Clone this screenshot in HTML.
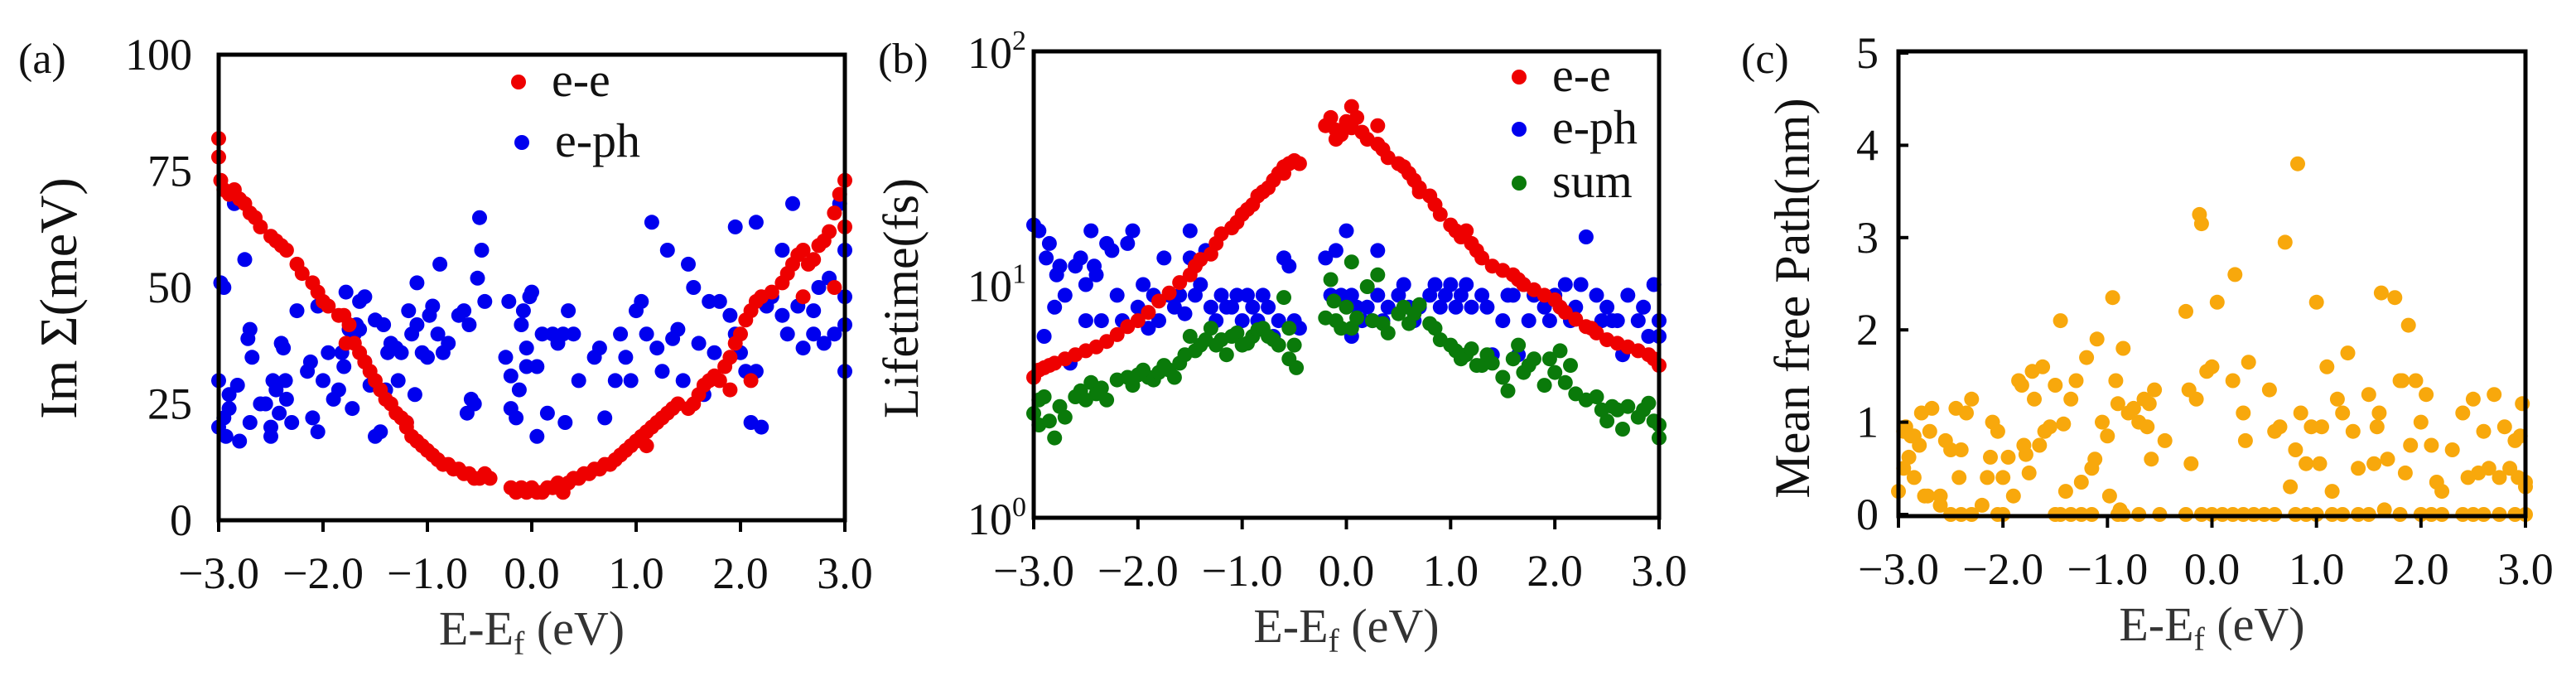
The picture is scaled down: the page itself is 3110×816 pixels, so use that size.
<!DOCTYPE html>
<html><head><meta charset="utf-8"><style>
html,body{margin:0;padding:0;background:#fff;}
svg{display:block;}
svg text{font-family:"Liberation Serif","DejaVu Serif",serif;}
</style></head><body>
<svg id="fig" width="3110" height="816" viewBox="0 0 3110 816" xmlns="http://www.w3.org/2000/svg" font-family="Liberation Serif, DejaVu Serif, serif"></svg>
<script>
// ---------- Panel (a) data: Im Sigma (meV) ----------
const aEeX=[-3,-3,-2.98,-2.95,-2.9,-2.85,-2.8,-2.75,-2.7,-2.65,-2.6,-2.5,-2.45,-2.4,-2.35,-2.25,-2.2,-2.1,-2.05,-2,-1.95,-1.85,-1.8,-1.75,-1.7,-1.65,-1.6,-1.55,-1.5,-1.45,-1.4,-1.35,-1.3,-1.25,-1.2,-1.15,-1.1,-1.05,-1,-0.95,-0.9,-0.85,-0.8,-0.75,-0.7,-0.65,-0.6,-0.55,-0.5,-0.45,-0.4,-0.2,-0.15,-0.1,-0.05,0,0.05,0.1,0.15,0.2,0.25,0.3,0.35,0.4,0.45,0.5,0.55,0.6,0.65,0.7,0.75,0.8,0.85,0.9,0.95,1,1.05,1.1,1.15,1.2,1.25,1.3,1.35,1.4,1.5,1.55,1.6,1.65,1.7,1.75,1.8,1.85,1.9,1.95,2,2.05,2.1,2.15,2.2,2.3,2.4,2.45,2.5,2.55,2.6,2.65,2.7,2.75,2.8,2.85,2.9,2.95,3,3,2.9,2.6,2.1,1.9,-1.78,-1.2,0.3,1.1];
const aEeY=[82,78,73,71,70,71,69,68,66,65,63,61,60,59,58,55,53,51,49,47,46,44,44,42,38,36,34,32,30,28,26,25,23,22,20,18,17,16,15,14,13,12,12,11,11,10,10,9,9,10,9,7,6,7,6,7,6,6,7,7,8,7,8,9,9,10,10,11,11,12,12,13,14,15,16,17,18,19,20,21,22,23,24,25,24,25,27,29,30,31,30,33,35,38,40,43,45,47,48,49,51,53,55,57,58,55,56,59,60,62,66,70,73,63,50,48,30,28,38,21,6,16];
const aEpX=[-3,-3,-2.98,-2.95,-2.95,-2.93,-2.9,-2.9,-2.85,-2.82,-2.8,-2.75,-2.72,-2.7,-2.7,-2.68,-2.6,-2.55,-2.5,-2.5,-2.48,-2.45,-2.42,-2.4,-2.38,-2.36,-2.35,-2.3,-2.25,-2.15,-2.12,-2.1,-2.05,-2.05,-2,-1.95,-1.9,-1.85,-1.82,-1.8,-1.78,-1.75,-1.72,-1.7,-1.68,-1.65,-1.65,-1.6,-1.6,-1.55,-1.5,-1.5,-1.45,-1.42,-1.4,-1.38,-1.35,-1.3,-1.28,-1.25,-1.2,-1.18,-1.15,-1.12,-1.1,-1.1,-1.05,-1,-0.98,-0.95,-0.9,-0.88,-0.85,-0.8,-0.7,-0.65,-0.62,-0.6,-0.58,-0.55,-0.52,-0.5,-0.48,-0.45,-0.25,-0.22,-0.2,-0.2,-0.15,-0.12,-0.1,-0.08,-0.05,-0.05,-0.02,0,0.05,0.05,0.1,0.15,0.2,0.25,0.3,0.32,0.35,0.4,0.45,0.6,0.65,0.7,0.8,0.85,0.9,0.95,1,1.05,1.1,1.15,1.2,1.25,1.3,1.35,1.4,1.45,1.5,1.55,1.6,1.65,1.7,1.75,1.8,1.9,1.95,1.95,2,2.05,2.1,2.15,2.15,2.2,2.25,2.3,2.4,2.45,2.5,2.55,2.6,2.7,2.75,2.8,2.85,2.9,2.95,3,3,3,3,2.7,2.4];
const aEpY=[30,20,51,50,22,18,24,27,68,29,17,56,39,41,21,35,25,25,20,18,30,28,23,38,37,30,26,21,45,32,34,22,46,19,30,36,26,28,36,33,49,41,24,40,42,41,47,48,34,29,43,18,19,42,28,36,38,37,30,36,21,45,40,27,42,51,36,35,44,46,40,55,36,38,44,45,23,42,26,25,52,65,58,47,35,47,31,24,22,28,42,45,37,33,48,49,33,18,40,23,40,38,40,21,45,40,30,35,37,22,30,40,35,30,45,47,40,64,37,32,58,39,41,30,55,50,38,27,47,36,47,44,40,63,36,32,21,32,64,20,46,48,58,40,68,46,37,45,50,38,52,40,68,58,48,42,32,40,44];

// ---------- Panel (b) data: Lifetime (fs), log scale ----------
const bEeX=[-3,-2.95,-2.9,-2.85,-2.8,-2.7,-2.6,-2.5,-2.4,-2.3,-2.2,-2.1,-2,-1.9,-1.8,-1.7,-1.6,-1.5,-1.45,-1.4,-1.3,-1.25,-1.2,-1.1,-1.05,-1,-0.95,-0.9,-0.85,-0.8,-0.75,-0.7,-0.65,-0.6,-0.55,-0.5,-0.45,-0.2,-0.15,-0.1,-0.05,0,0.05,0.1,0.15,0.2,0.3,0.35,0.4,0.5,0.55,0.6,0.65,0.7,0.8,0.85,0.9,1,1.05,1.1,1.2,1.25,1.3,1.4,1.5,1.6,1.65,1.7,1.8,1.9,2,2.05,2.1,2.2,2.3,2.4,2.5,2.6,2.7,2.8,2.9,2.95,3,-0.1,0.05,-0.6,0.3,0.7,1.15,2.35];
const bEeY=[4.0,4.3,4.4,4.5,4.6,4.8,5.0,5.2,5.4,5.7,6.1,6.6,7.0,7.6,8.5,9.2,10.2,11.0,12.0,12.8,13.5,15,16.5,17.5,18.5,20,21,22,24,25,26,28,30,32,33,34,33,48,52,46,44,50,47,52,45,42,40,38,35,33,32,30,28,26,24,22,20,18,17,16,15,14,13,12,11.5,11,10.5,10,9.5,9,8.6,8,7.6,7.1,6.6,6.2,5.8,5.6,5.4,5.2,5.0,4.8,4.5,42,58,30,48,25,17,6.5];
const bEpX=[-3,-2.95,-2.9,-2.88,-2.85,-2.8,-2.78,-2.75,-2.7,-2.65,-2.6,-2.55,-2.5,-2.45,-2.42,-2.4,-2.35,-2.3,-2.25,-2.2,-2.15,-2.1,-2.05,-2,-1.95,-1.9,-1.85,-1.8,-1.75,-1.7,-1.65,-1.6,-1.55,-1.5,-1.45,-1.4,-1.35,-1.3,-1.25,-1.2,-1.15,-1.1,-1.05,-1,-0.95,-0.9,-0.85,-0.8,-0.75,-0.7,-0.65,-0.6,-0.55,-0.5,-0.45,-0.2,-0.15,-0.1,-0.05,0,0.05,0.1,0.15,0.2,0.25,0.3,0.35,0.4,0.5,0.55,0.6,0.65,0.7,0.8,0.85,0.9,0.95,1,1.05,1.1,1.15,1.2,1.3,1.35,1.4,1.5,1.55,1.6,1.65,1.7,1.75,1.8,1.9,1.95,2,2.05,2.1,2.15,2.2,2.25,2.3,2.4,2.45,2.5,2.55,2.6,2.65,2.7,2.8,2.85,2.9,3,3,2.95,-2.5,-1.5,-0.6,0.05,0.3];
const bEpY=[18,17,6,13,15,8,11,12,9,4.6,12,13,10,17,12,11,7,15,14,9,7,15,17,8,10,6.5,9,7,13,9,8,9,7.5,17,9,10,14,8,7,9,8,8,9,7,9,8,7,9,8,6,7,13,12,7,6.5,13,9,14,9,17,9,8,7,8,7,9,7,8,9,10,8,7,8,9,10,8,9,10,8,9,10,8,9,8,5,7,9,9,5,10,7,9,8,7,9,8,10,7,8,10,16,9,7,8,7,7,5,9,7,8,6,7,6,10,7,13,13,6,14,17,8];
const bSuX=[-3,-2.95,-2.95,-2.9,-2.85,-2.8,-2.75,-2.7,-2.6,-2.55,-2.5,-2.45,-2.4,-2.35,-2.3,-2.2,-2.1,-2.05,-2,-1.95,-1.9,-1.85,-1.8,-1.75,-1.7,-1.65,-1.6,-1.55,-1.5,-1.45,-1.4,-1.35,-1.3,-1.25,-1.2,-1.15,-1.1,-1.05,-1,-0.95,-0.9,-0.85,-0.8,-0.75,-0.7,-0.65,-0.6,-0.55,-0.5,-0.48,-0.2,-0.15,-0.12,-0.1,-0.05,0,0.05,0.1,0.2,0.25,0.3,0.35,0.4,0.5,0.55,0.6,0.65,0.7,0.8,0.85,0.9,1,1.05,1.1,1.15,1.2,1.25,1.3,1.35,1.4,1.5,1.55,1.6,1.65,1.7,1.75,1.8,1.9,1.95,2,2.05,2.1,2.15,2.2,2.3,2.4,2.45,2.5,2.55,2.6,2.65,2.7,2.8,2.85,2.9,2.95,3,3,0.05,-0.55];
const bSuY=[2.8,3.2,2.5,3.3,2.6,2.2,3.0,2.7,3.3,3.5,3.2,3.8,3.4,3.6,3.2,3.9,4.0,3.7,4.1,4.3,4.0,3.9,4.2,4.5,4.3,4.0,4.6,5.0,6.0,5.2,5.5,5.8,6.5,5.5,5.8,5.0,6.0,6.2,5.5,5.6,6.0,6.4,6.5,6.0,5.8,5.5,8.8,6.5,5.5,4.4,7.2,10.5,8.5,7.0,6.5,8.0,12.5,7.2,9.8,7.0,11,6.8,6.2,7.5,8.0,6.8,7.5,8.2,6.8,6.5,5.8,5.5,5.2,4.8,5.0,5.3,4.5,4.5,5.0,4.6,4.0,3.5,4.8,5.5,4.2,4.5,4.8,3.7,4.8,4.2,5.2,3.8,4.5,3.4,3.2,3.3,2.9,2.6,3.0,2.9,2.4,3.0,2.7,2.9,3.1,2.6,2.5,2.2,6.5,4.8];

// ---------- Panel (c) data: Mean free path (nm) ----------
const cX=[-3,-2.95,-2.93,-2.9,-2.88,-2.85,-2.8,-2.78,-2.72,-2.7,-2.68,-2.6,-2.55,-2.5,-2.45,-2.42,-2.4,-2.35,-2.3,-2.2,-2.15,-2.12,-2.1,-2.05,-2,-1.95,-1.9,-1.85,-1.82,-1.8,-1.78,-1.75,-1.72,-1.7,-1.65,-1.62,-1.6,-1.55,-1.5,-1.45,-1.42,-1.4,-1.35,-1.3,-1.25,-1.2,-1.15,-1.12,-1.1,-1.05,-1,-0.98,-0.95,-0.92,-0.9,-0.88,-0.85,-0.8,-0.75,-0.7,-0.65,-0.62,-0.6,-0.58,-0.55,-0.45,-0.25,-0.22,-0.2,-0.15,-0.12,-0.1,-0.05,0,0.05,0.2,0.22,0.3,0.32,0.35,0.55,0.6,0.65,0.7,0.75,0.8,0.82,0.85,0.9,0.95,1,1.03,1.05,1.1,1.15,1.2,1.25,1.3,1.35,1.4,1.5,1.55,1.58,1.6,1.62,1.65,1.68,1.75,1.8,1.82,1.85,1.88,1.9,1.95,2,2.05,2.1,2.15,2.2,2.3,2.4,2.45,2.5,2.55,2.6,2.65,2.7,2.75,2.8,2.85,2.9,2.95,3,3,2.97,2.93,
-2.95,-2.85,-2.75,-2.6,-2.5,-2.4,-2.3,-2.05,-2.0,-1.5,-1.45,-1.35,-1.25,-1.15,-0.9,-0.85,-0.7,-0.5,-0.25,-0.1,0,0.1,0.2,0.3,0.4,0.5,0.6,0.8,0.9,1.0,1.15,1.25,1.4,1.5,1.8,2.0,2.1,2.2,2.4,2.5,2.6,2.75,2.9,3.0];
const cY=[0.25,0.9,0.95,0.62,0.85,0.4,0.75,1.1,0.2,0.9,1.15,0.2,0.8,0.7,1.15,0.4,0.7,1.1,1.25,0.1,0.4,0.62,1.0,0.9,0.4,0.62,0.2,1.45,1.4,0.75,0.65,0.45,1.55,1.25,0.75,1.6,0.9,0.95,1.4,2.1,0.98,0.25,1.25,1.45,0.35,1.7,0.5,0.6,1.9,1.0,0.85,0.2,2.35,1.45,1.2,0.05,1.8,1.1,1.15,1.0,1.25,0.95,1.2,0.6,1.35,0.8,2.2,1.35,0.55,1.25,3.25,3.15,1.55,1.6,2.3,1.45,2.6,1.1,0.8,1.65,1.35,0.9,0.95,2.95,0.3,0.7,3.8,1.1,0.55,0.95,2.3,0.55,0.95,1.6,0.25,1.25,1.1,1.75,0.9,0.5,1.3,0.55,0.95,1.1,2.4,0.05,0.6,2.35,1.45,1.45,0.45,2.05,0.75,1.45,1.0,1.3,0.75,0.35,0.25,0.7,1.1,0.4,1.25,0.45,0.9,0.5,1.3,0.4,0.95,0.5,0.8,0.85,0.3,0.35,1.2,0.4,0.5,0.85,0.2,0.1,
0,0,0,0,0,0,0,0,0,0,0,0,0,0,0,0,0,0,0,0,0,0,0,0,0,0,0,0,0,0,0,0,0,0,0,0,0,0,0,0,0,0,0,0];

const xTicks=[-3,-2,-1,0,1,2,3];
const xTickLabels=["\u22123.0","\u22122.0","\u22121.0","0.0","1.0","2.0","3.0"];
const aYTicks=[0,25,50,75,100];
const cYTicks=[0,1,2,3,4,5];

const NS="http://www.w3.org/2000/svg";
const FONT="'Liberation Serif','DejaVu Serif',serif";
const svg=document.getElementById('fig');
function mk(tag,attrs,parent){const e=document.createElementNS(NS,tag);for(const k in attrs)e.setAttribute(k,attrs[k]);if(tag==='text')e.setAttribute('font-family',FONT);(parent||svg).appendChild(e);return e;}

function panel(p){
  const g=mk('g',{});
  
  
  const sx=v=>p.L+(v+3)/6*(p.R-p.L);
  const sy=p.sy;
  p.series.forEach(s=>{
    const sg=mk('g',{fill:s.color},g);
    
    
    for(let i=0;i<s.x.length;i++){
      const c=mk('circle',{cx:sx(s.x[i]).toFixed(1),cy:sy(s.y[i]).toFixed(1),r:9},sg);
      
      
    }
  });
  const fr=mk('rect',{x:p.L,y:p.T,width:p.R-p.L,height:p.B-p.T,fill:'none',stroke:'#000','stroke-width':5},g);
  
  
  xTicks.forEach((t,i)=>{
    const X=sx(t);
    const tk=mk('line',{x1:X,x2:X,y1:p.B,y2:p.B+14,stroke:'#000','stroke-width':4},g);
    
    
    const tx=mk('text',{x:X,y:p.B+82,'font-size':54,'text-anchor':'middle',fill:'#111'},g);
    tx.textContent=xTickLabels[i];
    
    
  });
  const xt=mk('text',{x:(p.L+p.R)/2,y:p.B+150,'font-size':58,'text-anchor':'middle',fill:'#333'},g);
  xt.innerHTML='E-E<tspan font-size="40" dy="12">f</tspan><tspan dy="-12"> (eV)</tspan>';
  
  
  return {g,sx,sy};
}

function ylabels(g,ticks,labels,sy,x){
  ticks.forEach((t,i)=>{
    const tx=mk('text',{x:x,y:sy(t)+18,'font-size':54,'text-anchor':'end',fill:'#111'},g);
    tx.innerHTML=labels[i];
    
    
  });
}
function text(g,x,y,s,str,name,rot){
  const t=mk('text',{x:x,y:y,'font-size':s,'text-anchor':rot?'middle':'start',fill:'#111'},g);
  if(rot)t.setAttribute('transform','rotate(-90 '+x+' '+y+')');
  t.innerHTML=str;
  
  
  return t;
}
function legend(g,x,y,color,label){
  const c=mk('circle',{cx:x,cy:y,r:9,fill:color},g);
  
  
  text(g,x+40,y+17,58,label,'legend-label');
}

// Panel a
{
  const T=66,B=628;
  const sy=v=>B-v/100*(B-T);
  const P=panel({name:'panel-a',L:264,R:1020,T,B,sy,series:[
    {name:'e-ph-series',color:'#0000ee',x:aEpX,y:aEpY},
    {name:'e-e-series',color:'#ee0000',x:aEeX,y:aEeY}]});
  ylabels(P.g,aYTicks,aYTicks.map(String),sy,232);
  text(P.g,22,88,52,'(a)','panel-label-a');
  text(P.g,92,360,64,'Im Σ(meV)','y-axis-title',true);
  legend(P.g,626,99,'#ee0000','e-e');
  legend(P.g,630,172,'#0000ee','e-ph');
}
// Panel b
{
  const T=62,B=625;
  const sy=v=>B-Math.log10(v)/2*(B-T);
  const P=panel({name:'panel-b',L:1248,R:2003,T,B,sy,series:[
    {name:'e-ph-series',color:'#0000ee',x:bEpX,y:bEpY},
    {name:'e-e-series',color:'#ee0000',x:bEeX,y:bEeY},
    {name:'sum-series',color:'#0a7a0a',x:bSuX,y:bSuY}]});
  [1,10,100].forEach((v,i)=>{
    text(P.g,1168,sy(v)+20,54,'10<tspan font-size="34" dy="-22">'+i+'</tspan>','y-tick-label');
  });
  text(P.g,1060,88,52,'(b)','panel-label-b');
  text(P.g,1108,360,60,'Lifetime(fs)','y-axis-title',true);
  legend(P.g,1834,93,'#ee0000','e-e');
  legend(P.g,1834,156,'#0000ee','e-ph');
  legend(P.g,1834,221,'#0a7a0a','sum');
}
// Panel c
{
  const T=62,B=623;
  const sy=v=>B-2-v/5*(B-T-4);
  const P=panel({name:'panel-c',L:2292,R:3049,T,B,sy,series:[
    {name:'mfp-series',color:'#f8a80c',x:cX,y:cY}]});
  ylabels(P.g,cYTicks,cYTicks.map(String),sy,2268);
  cYTicks.forEach(t=>{const l=mk('line',{x1:2292,x2:2304,y1:sy(t),y2:sy(t),stroke:'#000','stroke-width':4},P.g);});
  text(P.g,2102,88,52,'(c)','panel-label-c');
  text(P.g,2184,360,60,'Mean free Path(nm)','y-axis-title',true);
}
</script>
</body></html>
